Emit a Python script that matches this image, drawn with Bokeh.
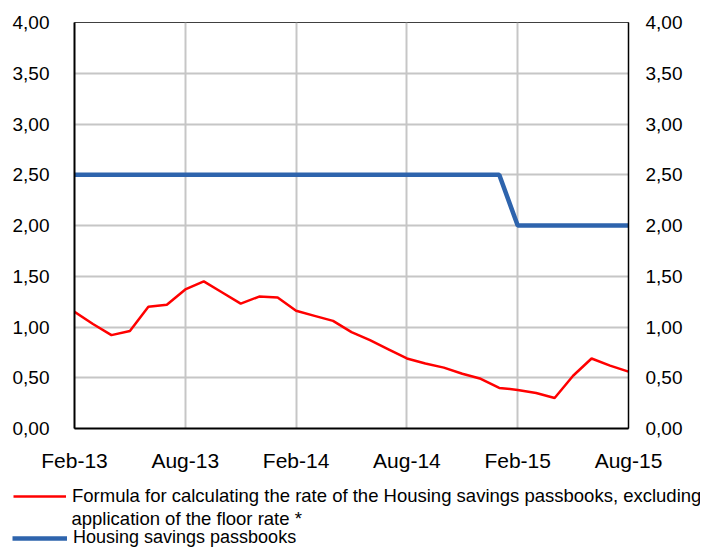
from bokeh.plotting import figure
from bokeh.layouts import column
from bokeh.models import FixedTicker, LinearAxis, Range1d, Legend, LegendItem, ColumnDataSource, Label
from bokeh.embed import file_html
from bokeh.resources import INLINE

months = ["Feb-13", "Mar-13", "Apr-13", "May-13", "Jun-13", "Jul-13", "Aug-13", "Sep-13",
          "Oct-13", "Nov-13", "Dec-13", "Jan-14", "Feb-14", "Mar-14", "Apr-14", "May-14",
          "Jun-14", "Jul-14", "Aug-14", "Sep-14", "Oct-14", "Nov-14", "Dec-14", "Jan-15",
          "Feb-15", "Mar-15", "Apr-15", "May-15", "Jun-15", "Jul-15", "Aug-15"]
formula_rate = [1.15, 1.03, 0.92, 0.96, 1.20, 1.22, 1.37, 1.45, 1.34, 1.23, 1.30, 1.29,
                1.16, 1.11, 1.06, 0.95, 0.87, 0.78, 0.69, 0.64, 0.60, 0.54, 0.49, 0.40,
                0.38, 0.35, 0.30, 0.52, 0.69, 0.62, 0.56]
passbook_rate = [2.50] * 24 + [2.00] * 7
y_ticks = [0.0, 0.5, 1.0, 1.5, 2.0, 2.5, 3.0, 3.5, 4.0]
y_tick_labels = ["0,00", "0,50", "1,00", "1,50", "2,00", "2,50", "3,00", "3,50", "4,00"]
x_tick_labels = ["Feb-13", "Aug-13", "Feb-14", "Aug-14", "Feb-15", "Aug-15"]
label_formula_1 = "Formula for calculating the rate of the Housing savings passbooks, excluding"
label_formula_2 = "application of the floor rate *"
label_passbook = "Housing savings passbooks"

x_idx = list(range(len(months)))
x_ticks = [months.index(m) for m in x_tick_labels]
src = ColumnDataSource(dict(x=x_idx, formula=formula_rate, passbook=passbook_rate))

FONT = "Liberation Sans"
RED = "#FF0000"
BLUE = "#2E64AD"

p = figure(width=700, height=474, output_backend="svg", toolbar_location=None,
           x_range=Range1d(0, len(months) - 1), y_range=Range1d(0, 4),
           min_border_left=74, min_border_right=72, min_border_top=22, min_border_bottom=39,
           background_fill_color="white", border_fill_color="white")
p.frame_align = False
p.outline_line_color = "#404040"
p.outline_line_width = 1

p.line("x", "formula", source=src, line_color=RED, line_width=2.5)
p.line("x", "passbook", source=src, line_color=BLUE, line_width=4.5)

# axes
p.xaxis.ticker = FixedTicker(ticks=x_ticks)
p.xaxis.major_label_overrides = {t: l for t, l in zip(x_ticks, x_tick_labels)}
p.yaxis.ticker = FixedTicker(ticks=y_ticks)
p.yaxis.major_label_overrides = {t: l for t, l in zip(y_ticks, y_tick_labels)}

right = LinearAxis(ticker=FixedTicker(ticks=y_ticks))
right.major_label_overrides = {t: l for t, l in zip(y_ticks, y_tick_labels)}
p.add_layout(right, "right")

for ax in [p.xaxis[0], p.yaxis[0], right]:
    ax.major_tick_line_color = None
    ax.minor_tick_line_color = None
    ax.axis_line_color = "black"
    ax.major_label_text_font = FONT
    ax.major_label_text_color = "black"
p.xaxis.axis_line_width = 2
p.yaxis[0].axis_line_width = 2
right.axis_line_width = 1.5
p.xaxis.major_label_text_font_size = "21px"
p.xaxis.major_label_standoff = 14
p.yaxis[0].major_label_text_font_size = "19px"
p.yaxis[0].major_label_standoff = 19
right.major_label_text_font_size = "19px"
right.major_label_standoff = 11

p.xgrid.ticker = FixedTicker(ticks=x_ticks)
p.ygrid.ticker = FixedTicker(ticks=y_ticks)
p.grid.grid_line_color = "#C6C6C6"
p.grid.grid_line_width = 2

# legend panel: same series drawn out of view, used only as legend sources
lf = figure(width=700, height=74, output_backend="svg", toolbar_location=None,
            x_range=Range1d(0, len(months) - 1), y_range=Range1d(100, 101),
            x_axis_type=None, y_axis_type=None,
            min_border_left=0, min_border_right=0, min_border_top=0, min_border_bottom=0,
            background_fill_color="white", border_fill_color="white")
lf.frame_align = False
lf.outline_line_color = None
lf.grid.visible = False
lr_formula = lf.line("x", "formula", source=src, line_color=RED, line_width=2.5)
lr_pass = lf.line("x", "passbook", source=src, line_color=BLUE, line_width=4.5)

leg1 = Legend(items=[LegendItem(label=label_formula_1, renderers=[lr_formula])],
              location=(13, 41))
leg2 = Legend(items=[LegendItem(label=label_passbook, renderers=[lr_pass])],
              location=(12, 0))
for lg, fs, gw in [(leg1, "18.5px", 53), (leg2, "18px", 55)]:
    lg.label_text_font = FONT
    lg.label_text_font_size = fs
    lg.label_text_color = "black"
    lg.padding = 0
    lg.margin = 0
    lg.spacing = 0
    lg.label_standoff = 6
    lg.glyph_width = gw
    lg.glyph_height = 16
    lg.label_height = 16
    lg.border_line_alpha = 0
    lg.background_fill_alpha = 0
    lf.add_layout(lg, "center")

lf.add_layout(Label(x=71, y=30, x_units="screen", y_units="screen", text=label_formula_2,
                    text_font=FONT, text_font_size="18.5px", text_color="black",
                    text_baseline="middle", text_align="left"))

open("out.html", "w").write(file_html(column(p, lf, spacing=0), INLINE))
